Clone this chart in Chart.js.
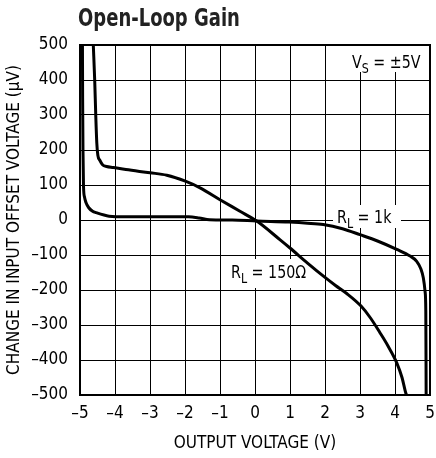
<!DOCTYPE html>
<html>
<head>
<meta charset="utf-8">
<script src="https://cdn.jsdelivr.net/npm/chart.js@4.4.1/dist/chart.umd.min.js"></script>
<style>
  html, body { margin: 0; padding: 0; background: #fff; }
  #wrap { width: 436px; height: 458px; position: relative; }
</style>
</head>
<body>
<div id="wrap"><canvas id="c" width="436" height="458"></canvas></div>
<script>
// ---- data ----
const titleText = "Open-Loop Gain";
const xTitle = "OUTPUT VOLTAGE (V)";
const yTitle = "CHANGE IN INPUT OFFSET VOLTAGE (\u00B5V)";
const xTickValues = [-5, -4, -3, -2, -1, 0, 1, 2, 3, 4, 5];
const xTickLabels = ["\u20135", "\u20134", "\u20133", "\u20132", "\u20131", "0", "1", "2", "3", "4", "5"];
const yTickValues = [-500, -400, -300, -200, -100, 0, 100, 200, 300, 400, 500];
const yTickLabels = ["\u2013500", "\u2013400", "\u2013300", "\u2013200", "\u2013100", "0", "100", "200", "300", "400", "500"];

// R_L = 150 ohm
const v150 = [-4.62, -4.58, -4.55, -4.52, -4.49, -4.43, -4.35, -4.24, -4.05, -3.69, -3.0, -2.52, -1.99, -1.57, -1.0, -0.43, 0.05, 0.71, 1.0, 1.5, 2.0, 2.3, 2.62, 3.03, 3.3, 3.57, 3.8, 4.05, 4.2, 4.31, 4.33];
const d150 = [500, 400, 300, 220, 185, 170, 157, 153, 150, 144, 135, 128, 111, 92, 58, 25, -3, -56, -80, -123, -164, -187, -210, -246, -280, -322, -360, -408, -450, -495, -500];

// R_L = 1k
const v1k = [-4.93, -4.925, -4.915, -4.90, -4.87, -4.83, -4.75, -4.64, -4.54, -4.17, -3.69, -3.0, -2.5, -1.9, -1.6, -1.3, -0.65, 0.05, 0.97, 1.5, 1.95, 2.5, 3.0, 3.5, 4.05, 4.43, 4.62, 4.74, 4.81, 4.86, 4.88, 4.89];
const d1k = [500, 350, 200, 97, 65, 50, 35, 25, 21, 11, 9, 9, 9, 9, 6, 1, 0, -3, -6, -9, -13, -25, -42, -60, -84, -103, -118, -140, -166, -205, -260, -500];

const vsLabel = { main: "V", sub: "S", rest: " = \u00B15V" };
const label1k = { main: "R", sub: "L", rest: " = 1k" };
const label150 = { main: "R", sub: "L", rest: " = 150\u03A9" };

const FONT = '"Liberation Sans Narrow", "Arial Narrow", "DejaVu Sans Condensed", sans-serif';

function pts(xs, ys) { return xs.map((x, i) => ({ x: x, y: ys[i] })); }

function drawSubLabel(ctx, lab, x, y, size, sx) {
  ctx.save();
  ctx.translate(x, y);
  ctx.scale(sx, 1);
  ctx.fillStyle = '#000';
  ctx.textBaseline = 'alphabetic';
  ctx.textAlign = 'left';
  ctx.font = size + 'px ' + FONT;
  ctx.fillText(lab.main, 0, 0);
  let w = ctx.measureText(lab.main).width;
  ctx.font = Math.round(size * 0.75) + 'px ' + FONT;
  ctx.fillText(lab.sub, w, 5);
  w += ctx.measureText(lab.sub).width;
  ctx.font = size + 'px ' + FONT;
  ctx.fillText(lab.rest, w, 0);
  ctx.restore();
}

const boxes = [
  { lab: vsLabel, x: 352, y: 67.5, box: [348, 46, 78, 26] },
  { lab: label1k, x: 337, y: 223, box: [333, 205, 68, 23] },
  { lab: label150, x: 231, y: 278, box: [227, 259, 83, 29] }
];

const deco = {
  id: 'deco',
  beforeDatasetsDraw(chart) {
    const ctx = chart.ctx;
    ctx.save();
    ctx.fillStyle = '#fff';
    boxes.forEach(b => ctx.fillRect(b.box[0], b.box[1], b.box[2], b.box[3]));
    const a = chart.chartArea;
    ctx.strokeStyle = '#000';
    ctx.lineWidth = 2;
    ctx.strokeRect(a.left, a.top, a.right - a.left, a.bottom - a.top);
    ctx.restore();
  },
  afterDatasetsDraw(chart) {
    const ctx = chart.ctx;
    boxes.forEach(b => drawSubLabel(ctx, b.lab, b.x, b.y, 18, 0.88));
  },
  afterDraw(chart) {
    const ctx = chart.ctx;
    ctx.save();
    ctx.translate(78, 26);
    ctx.scale(0.8, 1);
    ctx.fillStyle = '#222';
    ctx.font = 'bold 25px ' + FONT;
    ctx.textAlign = 'left';
    ctx.textBaseline = 'alphabetic';
    ctx.fillText(titleText, 0, 0);
    ctx.restore();
  }
};

new Chart(document.getElementById('c'), {
  type: 'line',
  data: {
    datasets: [
      { label: 'RL = 150', data: pts(v150, d150), borderColor: '#000', borderWidth: 3, pointRadius: 0, cubicInterpolationMode: 'monotone', fill: false },
      { label: 'RL = 1k', data: pts(v1k, d1k), borderColor: '#000', borderWidth: 3, pointRadius: 0, cubicInterpolationMode: 'monotone', fill: false }
    ]
  },
  options: {
    responsive: false,
    animation: false,
    devicePixelRatio: 1,
    layout: { padding: { left: 0, right: 6, top: 45, bottom: 0 } },
    plugins: { legend: { display: false }, tooltip: { enabled: false }, title: { display: false } },
    scales: {
      x: {
        type: 'linear', min: -5, max: 5,
        afterFit(s) { s.height = 63; s.paddingLeft = 0; s.paddingRight = 0; },
        afterBuildTicks(s) { s.ticks = xTickValues.map(v => ({ value: v })); },
        ticks: {
          autoSkip: false, maxRotation: 0, padding: 8,
          color: '#000', font: { family: FONT, size: 17 },
          callback: (v) => xTickLabels[xTickValues.indexOf(v)]
        },
        grid: { color: '#000', lineWidth: 1, drawTicks: false },
        border: { display: false },
        title: { display: true, text: xTitle, color: '#000', font: { family: FONT, size: 17 }, padding: { top: 4 } }
      },
      y: {
        type: 'linear', min: -500, max: 500,
        afterFit(s) { s.width = 80; s.paddingTop = 0; s.paddingBottom = 0; },
        afterBuildTicks(s) { s.ticks = yTickValues.map(v => ({ value: v })); },
        ticks: {
          autoSkip: false, padding: 12,
          color: '#000', font: { family: FONT, size: 17 },
          callback: (v) => yTickLabels[yTickValues.indexOf(v)]
        },
        grid: { color: '#000', lineWidth: 1, drawTicks: false },
        border: { display: false },
        title: { display: true, text: yTitle, color: '#000', font: { family: FONT, size: 17 }, padding: { top: 4, bottom: 0 } }
      }
    }
  },
  plugins: [deco]
});
</script>
</body>
</html>
